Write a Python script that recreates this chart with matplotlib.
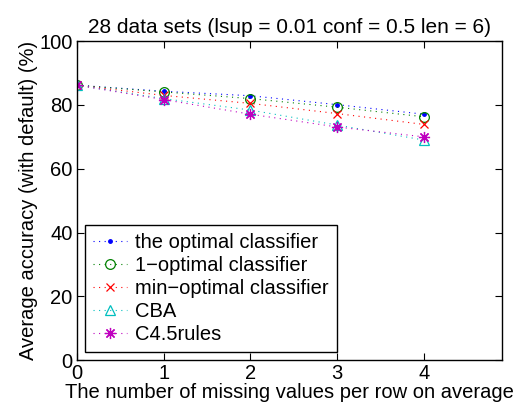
import matplotlib.pyplot as plt

plt.rcParams['font.family'] = ['Liberation Sans', 'DejaVu Sans']

# Data
missing = [0, 1, 2, 3, 4]
optimal = [86.2, 84.3, 82.9, 80.1, 77.1]
one_optimal = [86.2, 84.1, 82.0, 79.3, 76.3]
min_optimal = [86.2, 83.0, 80.5, 77.3, 73.9]
cba = [86.2, 82.0, 78.4, 73.7, 69.0]
c45rules = [86.2, 81.7, 77.1, 73.1, 70.0]

fig = plt.figure(figsize=(5.23, 4.12), dpi=100)
ax = fig.add_axes([0.147, 0.126, 0.813, 0.774])

ls = (0, (1, 4))
lw = 0.8
ax.plot(missing, optimal, linestyle=ls, lw=lw, color='b', marker='.', markersize=5, label='the optimal classifier')
ax.plot(missing, one_optimal, linestyle=ls, lw=lw, color='g', marker='o', markersize=7, markeredgewidth=0.9,
        markerfacecolor='none', label='1\u2212optimal classifier')
ax.plot(missing, min_optimal, linestyle=ls, lw=lw, color='r', marker='x', markersize=6, markeredgewidth=0.9,
        label='min\u2212optimal classifier')
ax.plot(missing, cba, linestyle=ls, lw=lw, color='c', marker='^', markersize=7, markeredgewidth=0.9,
        markerfacecolor='none', label='CBA')
ax.plot(missing, c45rules, linestyle=ls, lw=lw, color='m', marker=(8, 2, 0), markersize=8, markeredgewidth=0.9,
        label='C4.5rules')

ax.set_xlim(0, 4.9)
ax.set_ylim(0, 100)
ax.set_xticks([0, 1, 2, 3, 4])
ax.set_yticks([0, 20, 40, 60, 80, 100])
ax.tick_params(direction='in', top=True, right=True, labelsize=14.5, length=5, pad=3)
for s in ax.spines.values():
    s.set_linewidth(1.0)
ax.set_title('28 data sets (lsup = 0.01 conf = 0.5 len = 6)', fontsize=15, pad=6)
ax.set_xlabel('The number of missing values per row on average', fontsize=14.5, labelpad=0)
ax.set_ylabel('Average accuracy (with default) (%)', fontsize=14.5, labelpad=1)

leg = ax.legend(loc='lower left', fontsize=14.5, fancybox=False, framealpha=1,
                edgecolor='black', handlelength=1.7, handletextpad=0.4,
                borderaxespad=0.4, labelspacing=0.2, borderpad=0.4)
leg.get_frame().set_linewidth(1.0)

fig.savefig('out.png', dpi=100)
